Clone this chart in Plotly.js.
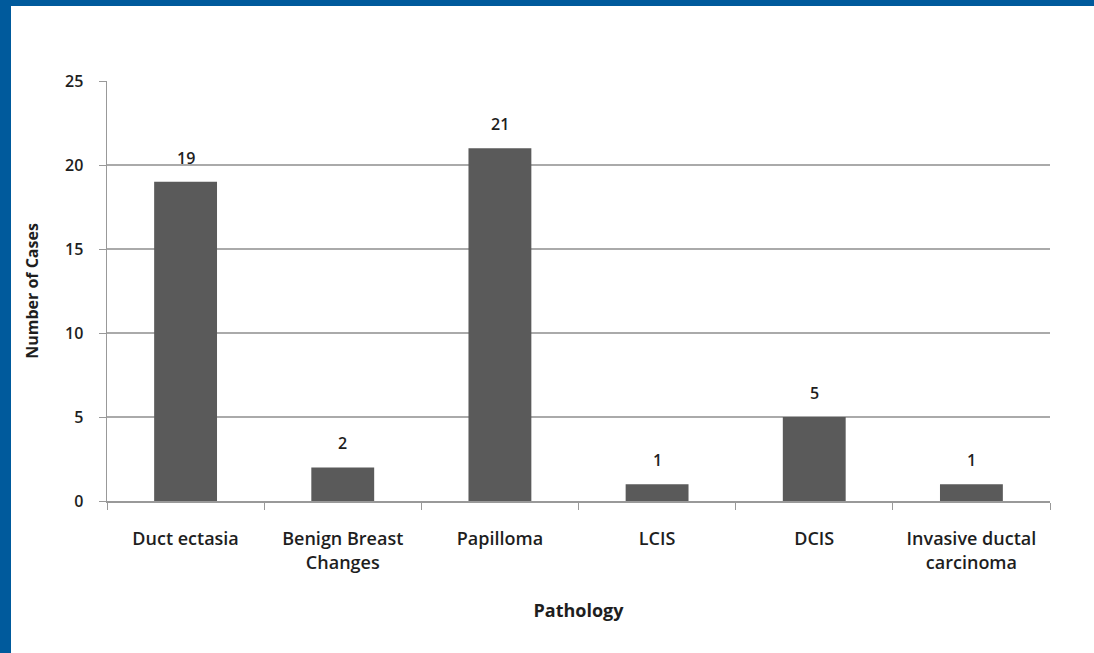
<!DOCTYPE html>
<html>
<head>
<meta charset="utf-8">
<script src="https://cdn.plot.ly/plotly-3.0.1.min.js"></script>
<style>
  html, body { margin: 0; padding: 0; background: #fff; }
  #frame { position: absolute; left: 0; top: 0; width: 1094px; height: 653px; background: #005a9c; }
  #inner { position: absolute; left: 11px; top: 6px; width: 1083px; height: 647px; background: #fff; }
  #chart { position: absolute; left: 0; top: 0; width: 1094px; height: 653px; }
</style>
</head>
<body>
<div id="frame"><div id="inner"></div></div>
<div id="chart"></div>
<script>
const categories = ["Duct ectasia", "Benign Breast<br>Changes", "Papilloma", "LCIS", "DCIS", "Invasive ductal<br>carcinoma"];
const cases = [19, 2, 21, 1, 5, 1];
const yTicks = [0, 5, 10, 15, 20, 25];

const font = "'Open Sans', Lato, 'Liberation Sans', sans-serif";
const txt = "#1e1e1e";

const trace = {
  type: "bar",
  x: categories,
  y: cases,
  marker: { color: "#5a5a5a" },
  hoverinfo: "none"
};

const annotations = categories.map((c, i) => ({
  x: c,
  y: cases[i],
  xref: "x",
  yref: "y",
  text: String(cases[i]),
  showarrow: false,
  yanchor: "bottom",
  yshift: 11,
  font: { family: font, size: 16, color: txt, weight: 600 }
}));

const layout = {
  width: 1094,
  height: 653,
  margin: { l: 107, r: 44, t: 81, b: 152 },
  paper_bgcolor: "rgba(0,0,0,0)",
  plot_bgcolor: "rgba(0,0,0,0)",
  bargap: 0.6,
  showlegend: false,
  font: { family: font, size: 16, color: txt },
  annotations: annotations,
  xaxis: {
    type: "category",
    tickson: "boundaries",
    ticks: "outside",
    ticklen: 7,
    tickcolor: "#999",
    showline: true,
    linecolor: "#999",
    linewidth: 1.5,
    showgrid: false,
    tickfont: { family: font, size: 18, color: txt, weight: 600 },
    ticklabelstandoff: 21,
    title: { text: "Pathology", font: { family: font, size: 18, color: txt, weight: 700 }, standoff: 32 }
  },
  yaxis: {
    range: [0, 25],
    tickvals: yTicks,
    ticks: "outside",
    ticklen: 7,
    tickcolor: "#999",
    showline: true,
    linecolor: "#999",
    linewidth: 1.5,
    showgrid: true,
    gridcolor: "#aaaaaa",
    gridwidth: 1.5,
    zeroline: false,
    tickfont: { family: font, size: 16, color: txt, weight: 600 },
    ticklabelstandoff: 12,
    title: { text: "Number of Cases", font: { family: font, size: 16, color: txt, weight: 700 }, standoff: 22 }
  }
};

Plotly.newPlot("chart", [trace], layout, { displayModeBar: false, staticPlot: true });
</script>
</body>
</html>
